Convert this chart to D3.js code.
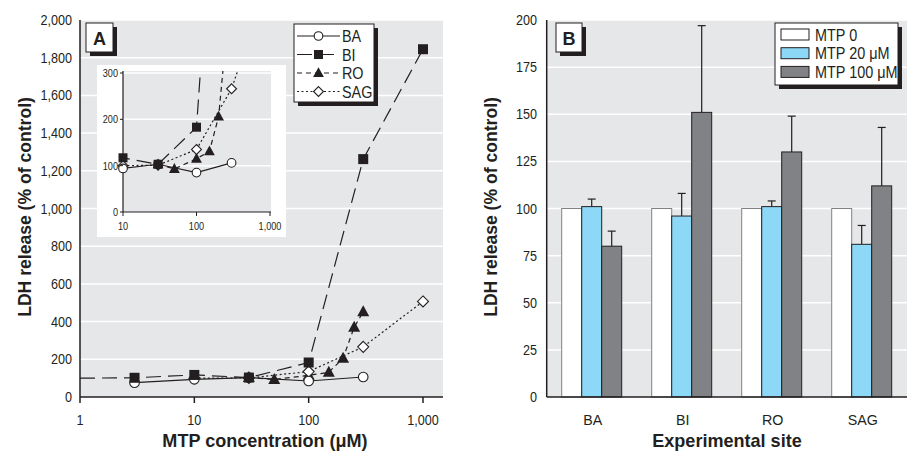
<!DOCTYPE html>
<html><head><meta charset="utf-8">
<script src="https://cdn.jsdelivr.net/npm/d3@7/dist/d3.min.js"></script>
<style>
body{margin:0;background:#fff;}
svg{display:block;font-family:'Liberation Sans',Arial,sans-serif;}
text{fill:#231f20;}
</style></head><body>
<svg id="c" width="907" height="451"></svg>
<script>
// ---- Panel A data ----
const baX = [3, 10, 30, 100, 300];
const baY = [76, 94, 103, 85, 106];
const biX = [1, 3, 10, 30, 100, 300, 1000];
const biY = [100, 102, 117, 103, 183, 1262, 1845];
const roX = [30, 50, 100, 150, 200, 250, 300];
const roY = [103, 93, 115, 131, 206, 370, 452];
const sagX = [10, 30, 100, 300, 1000];
const sagY = [100, 101, 135, 266, 507];
const aYTicks = [0, 200, 400, 600, 800, 1000, 1200, 1400, 1600, 1800, 2000];
const aXTicks = [1, 10, 100, 1000];
const insetYTicks = [0, 100, 200, 300];
const insetXTicks = [10, 100, 1000];
const seriesNames = ["BA", "BI", "RO", "SAG"];

// ---- Panel B data ----
const sites = ["BA", "BI", "RO", "SAG"];
const groups = ["MTP 0", "MTP 20 \u03bcM", "MTP 100 \u03bcM"];
const mtp0 = [100, 100, 100, 100];
const mtp20 = [101, 96, 101, 81];
const mtp100 = [80, 151, 130, 112];
const err0 = [0, 0, 0, 0];
const err20 = [4, 12, 3, 10];
const err100 = [8, 46, 19, 31];
const bYTicks = [0, 25, 50, 75, 100, 125, 150, 175, 200];

const svg = d3.select("#c");
const ink = "#231f20", bg = "#e6e7e8";
const fmt = d3.format(",");

function labelBox(x, y, w, h, t) {
  svg.append("rect").attr("x", x + 4).attr("y", y + 4).attr("width", w).attr("height", h).attr("fill", ink);
  svg.append("rect").attr("x", x).attr("y", y).attr("width", w).attr("height", h).attr("fill", "#fff").attr("stroke", ink).attr("stroke-width", 1);
  svg.append("text").attr("x", x + w / 2).attr("y", y + h / 2 + 7).attr("text-anchor", "middle")
    .attr("font-size", 19).attr("font-weight", "bold").attr("data-k", 0.95).text(t);
}

// ================= Panel A =================
const ax = d3.scaleLog().domain([1, 1000]).range([80, 423]);
const ay = d3.scaleLinear().domain([0, 2000]).range([397, 20]);
const aRight = 443;
svg.append("rect").attr("x", 80).attr("y", 20).attr("width", aRight - 80).attr("height", 377).attr("fill", bg);
svg.append("g").selectAll("line").data(aYTicks.slice(1)).join("line")
  .attr("x1", 80).attr("x2", aRight).attr("y1", d => ay(d)).attr("y2", d => ay(d))
  .attr("stroke", "#fff").attr("stroke-width", 1.5);

const styles = {
  BA: {dash: null, marker: "circle"},
  BI: {dash: "15,7", marker: "square"},
  RO: {dash: "5,4", marker: "triangle"},
  SAG: {dash: "2,2.5", marker: "diamond"}
};
const seriesData = {
  BA: baX.map((x, i) => ({x, y: baY[i]})),
  BI: biX.map((x, i) => ({x, y: biY[i], nomark: x === 1})),
  RO: roX.map((x, i) => ({x, y: roY[i]})),
  SAG: sagX.map((x, i) => ({x, y: sagY[i]}))
};
function drawMarker(g, type, cx, cy, s) {
  s = s || 1;
  if (type === "circle") g.append("circle").attr("cx", cx).attr("cy", cy).attr("r", 4.8 * s).attr("fill", "#fff").attr("stroke", ink).attr("stroke-width", 1.1);
  else if (type === "square") g.append("rect").attr("x", cx - 5 * s).attr("y", cy - 5 * s).attr("width", 10 * s).attr("height", 10 * s).attr("fill", ink);
  else if (type === "triangle") g.append("path").attr("d", `M${cx},${cy - 6.5 * s}L${cx + 6 * s},${cy + 4.5 * s}L${cx - 6 * s},${cy + 4.5 * s}Z`).attr("fill", ink);
  else if (type === "diamond") g.append("path").attr("d", `M${cx},${cy - 5.5 * s}L${cx + 5.5 * s},${cy}L${cx},${cy + 5.5 * s}L${cx - 5.5 * s},${cy}Z`).attr("fill", "#fff").attr("stroke", ink).attr("stroke-width", 1.1);
}
function drawSeries(g, xs, ys, clipId, s) {
  const order = ["RO", "SAG", "BA", "BI"];
  const lg = g.append("g"); if (clipId) lg.attr("clip-path", `url(#${clipId})`);
  const mg = g.append("g");
  order.forEach(n => {
    const line = d3.line().x(d => xs(d.x)).y(d => ys(d.y));
    lg.append("path").datum(seriesData[n]).attr("d", line).attr("fill", "none").attr("stroke", ink)
      .attr("stroke-width", 1.2).attr("stroke-dasharray", styles[n].dash);
  });
  order.forEach(n => {
    seriesData[n].forEach(d => {
      if (d.nomark) return;
      const [d0, d1] = xs.domain(), [y0, y1] = ys.domain();
      if (d.x < d0 || d.x > d1 || d.y > y1) return;
      drawMarker(mg, styles[n].marker, xs(d.x), ys(d.y), s);
    });
  });
}
drawSeries(svg, ax, ay, null, 1);

// axes A
svg.append("line").attr("x1", 80).attr("x2", 80).attr("y1", 20).attr("y2", 397).attr("stroke", ink).attr("stroke-width", 1.5);
svg.append("line").attr("x1", 80).attr("x2", aRight).attr("y1", 397).attr("y2", 397).attr("stroke", ink).attr("stroke-width", 1.5);
svg.append("g").selectAll("line").data(aXTicks).join("line")
  .attr("x1", d => ax(d)).attr("x2", d => ax(d)).attr("y1", 397).attr("y2", 403).attr("stroke", ink).attr("stroke-width", 1.5);
svg.append("g").selectAll("text").data(aYTicks).join("text")
  .attr("x", 72).attr("y", d => ay(d) + 5).attr("text-anchor", "end").attr("font-size", 14.5).text(d => fmt(d));
svg.append("g").selectAll("text").data(aXTicks).join("text")
  .attr("x", d => ax(d)).attr("y", 424.5).attr("text-anchor", "middle").attr("font-size", 14.5).text(d => fmt(d));
svg.append("text").attr("transform", "translate(31,207) rotate(-90)").attr("text-anchor", "middle")
  .attr("font-size", 18.5).attr("font-weight", "bold").attr("data-k", 0.95).text("LDH release (% of control)");
svg.append("text").attr("x", 265).attr("y", 446.5).attr("text-anchor", "middle")
  .attr("font-size", 19).attr("font-weight", "bold").attr("data-k", 0.95).text("MTP concentration (\u03bcM)");

// inset
svg.append("rect").attr("x", 97).attr("y", 65).attr("width", 189).attr("height", 172).attr("fill", "#fff");
const ix = d3.scaleLog().domain([10, 1000]).range([123, 270]);
const iy = d3.scaleLinear().domain([0, 300]).range([212, 73]);
svg.append("rect").attr("x", 123).attr("y", 71).attr("width", 148).attr("height", 141).attr("fill", bg);
svg.append("defs").append("clipPath").attr("id", "insetClip").append("rect")
  .attr("x", 123).attr("y", 71).attr("width", 148).attr("height", 141);
svg.append("g").selectAll("line").data(insetYTicks.slice(1)).join("line")
  .attr("x1", 123).attr("x2", 271).attr("y1", d => iy(d)).attr("y2", d => iy(d)).attr("stroke", "#fff").attr("stroke-width", 1.5);
svg.append("line").attr("x1", 123).attr("x2", 123).attr("y1", 71).attr("y2", 212).attr("stroke", ink).attr("stroke-width", 1.2);
svg.append("line").attr("x1", 123).attr("x2", 271).attr("y1", 212).attr("y2", 212).attr("stroke", ink).attr("stroke-width", 1.2);
drawSeries(svg, ix, iy, "insetClip", 0.9);
svg.append("g").selectAll("line").data(insetYTicks).join("line")
  .attr("x1", 120).attr("x2", 123).attr("y1", d => iy(d)).attr("y2", d => iy(d)).attr("stroke", ink);
svg.append("g").selectAll("line").data(insetXTicks).join("line")
  .attr("x1", d => ix(d)).attr("x2", d => ix(d)).attr("y1", 212).attr("y2", 216).attr("stroke", ink);
svg.append("g").selectAll("text").data(insetYTicks).join("text")
  .attr("x", 118).attr("y", d => iy(d) + 4).attr("text-anchor", "end").attr("font-size", 10.5).text(d => d);
svg.append("g").selectAll("text").data(insetXTicks).join("text")
  .attr("x", d => ix(d)).attr("y", 230).attr("text-anchor", "middle").attr("font-size", 10.5).text(d => fmt(d));

// legend A
svg.append("rect").attr("x", 298).attr("y", 28).attr("width", 80).attr("height", 78).attr("fill", ink);
svg.append("rect").attr("x", 294).attr("y", 24).attr("width", 80).attr("height", 78).attr("fill", "#fff").attr("stroke", ink);
seriesNames.forEach((n, i) => {
  const yy = 36 + i * 18.5;
  svg.append("line").attr("x1", 297).attr("x2", 340).attr("y1", yy).attr("y2", yy).attr("stroke", ink)
    .attr("stroke-width", 1.2).attr("stroke-dasharray", styles[n].dash);
  drawMarker(svg, styles[n].marker, 318.5, yy, 0.9);
  svg.append("text").attr("x", 342).attr("y", yy + 6).attr("font-size", 16.5).text(n);
});
labelBox(86, 23, 27, 29, "A");

// ================= Panel B =================
const bx = d3.scaleBand().domain(sites).range([546.7, 906.7]).paddingInner(1 / 3).paddingOuter(1 / 6);
const bg3 = d3.scaleBand().domain(groups).range([0, bx.bandwidth()]);
const by = d3.scaleLinear().domain([0, 200]).range([397, 20]);
svg.append("rect").attr("x", 546.7).attr("y", 20).attr("width", 907 - 546.7).attr("height", 377).attr("fill", bg);
svg.append("g").selectAll("line").data(bYTicks.slice(1)).join("line")
  .attr("x1", 546.7).attr("x2", 907).attr("y1", d => by(d)).attr("y2", d => by(d)).attr("stroke", "#fff").attr("stroke-width", 1.5);
const vals = [mtp0, mtp20, mtp100], errs = [err0, err20, err100];
const fills = ["#ffffff", "#8dd7f7", "#808285"];
const strokes = ["#808285", "#231f20", "#231f20"];
sites.forEach((s, si) => {
  groups.forEach((g, gi) => {
    const x0 = bx(s) + bg3(g), w = bg3.bandwidth();
    const v = vals[gi][si], e = errs[gi][si];
    if (e > 0) {
      const cx = x0 + w / 2;
      svg.append("line").attr("x1", cx).attr("x2", cx).attr("y1", by(v)).attr("y2", by(v + e)).attr("stroke", ink).attr("stroke-width", 1.2);
      svg.append("line").attr("x1", cx - 4).attr("x2", cx + 4).attr("y1", by(v + e)).attr("y2", by(v + e)).attr("stroke", ink).attr("stroke-width", 1.2);
    }
    svg.append("rect").attr("x", x0).attr("y", by(v)).attr("width", w).attr("height", by(0) - by(v))
      .attr("fill", fills[gi]).attr("stroke", strokes[gi]).attr("stroke-width", 1);
  });
});
svg.append("line").attr("x1", 546.7).attr("x2", 546.7).attr("y1", 20).attr("y2", 397).attr("stroke", ink).attr("stroke-width", 1.5);
svg.append("line").attr("x1", 546.7).attr("x2", 907).attr("y1", 397).attr("y2", 397).attr("stroke", ink).attr("stroke-width", 1.5);
svg.append("g").selectAll("text").data(bYTicks).join("text")
  .attr("x", 537).attr("y", d => by(d) + 5).attr("text-anchor", "end").attr("font-size", 14.5).text(d => d);
svg.append("g").selectAll("text").data(sites).join("text")
  .attr("x", d => bx(d) + bx.bandwidth() / 2 + 1).attr("y", 424.5).attr("text-anchor", "middle").attr("font-size", 15).attr("data-k", 0.95).text(d => d);
svg.append("text").attr("transform", "translate(497,207) rotate(-90)").attr("text-anchor", "middle")
  .attr("font-size", 18.5).attr("font-weight", "bold").attr("data-k", 0.95).text("LDH release (% of control)");
svg.append("text").attr("x", 727).attr("y", 446.5).attr("text-anchor", "middle")
  .attr("font-size", 19).attr("font-weight", "bold").attr("data-k", 0.95).text("Experimental site");

// legend B
svg.append("rect").attr("x", 779).attr("y", 27).attr("width", 123).attr("height", 62).attr("fill", ink);
svg.append("rect").attr("x", 775).attr("y", 23).attr("width", 123).attr("height", 62).attr("fill", "#fff").attr("stroke", ink);
groups.forEach((g, i) => {
  const yy = 34.5 + i * 18.7;
  svg.append("rect").attr("x", 781).attr("y", yy - 5.5).attr("width", 28).attr("height", 11)
    .attr("fill", fills[i]).attr("stroke", ink).attr("stroke-width", 1);
  svg.append("text").attr("x", 815).attr("y", yy + 6).attr("font-size", 16).attr("data-k", 0.9).text(g);
});
labelBox(556, 23, 26, 29, "B");

// condensed look: compress glyphs horizontally
svg.selectAll("text").each(function () {
  const l = this.getComputedTextLength();
  const k = +(this.getAttribute("data-k") || 0.87);
  d3.select(this).attr("textLength", l * k).attr("lengthAdjust", "spacingAndGlyphs");
});
</script></body></html>
